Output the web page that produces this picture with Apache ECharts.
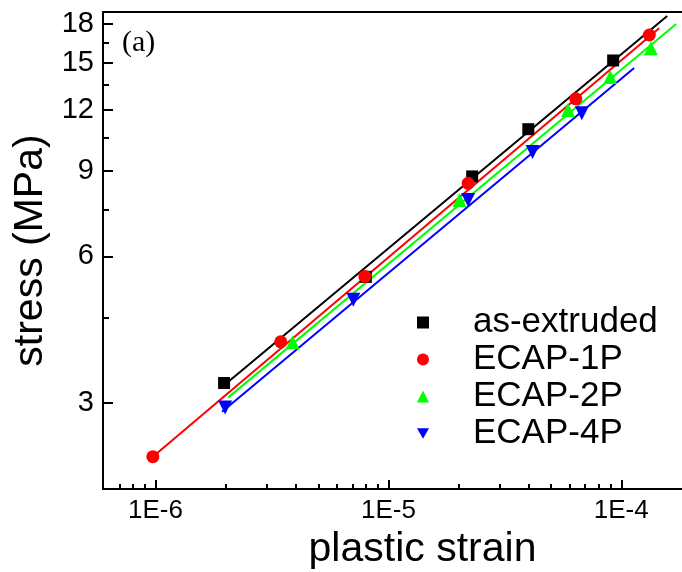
<!DOCTYPE html>
<html>
<head>
<meta charset="utf-8">
<script src="https://cdn.jsdelivr.net/npm/echarts@6/dist/echarts.min.js"></script>
<style>
  html, body { margin: 0; padding: 0; background: #fff; }
  #viz { width: 682px; height: 572px; }
</style>
</head>
<body>
<div id="viz"></div>
<script>
// values (strain, stress in MPa)
var seriesNames = ['as-extruded', 'ECAP-1P', 'ECAP-2P', 'ECAP-4P'];
var seriesColors = ['#000000', '#ff0000', '#00ff00', '#0000ff'];

var extrudedStrain = [1.97e-6, 8.0e-6, 2.29e-5, 3.99e-5, 9.23e-5];
var extrudedStress = [3.3, 5.45, 8.76, 10.95, 15.15];
var ecap1Strain = [9.74e-7, 3.45e-6, 7.93e-6, 2.2e-5, 6.38e-5, 1.32e-4];
var ecap1Stress = [2.33, 4.01, 5.46, 8.48, 12.64, 17.09];
var ecap2Strain = [3.88e-6, 2.02e-5, 5.91e-5, 8.97e-5, 1.34e-4];
var ecap2Stress = [4.0, 7.84, 11.99, 14.01, 16.05];
var ecap4Strain = [1.99e-6, 7.07e-6, 2.2e-5, 4.16e-5, 6.77e-5];
var ecap4Stress = [2.94, 4.89, 7.84, 9.83, 11.8];

// fitted power-law lines, start and end of each
var fitStrain = [[1.93e-6, 1.575e-4], [9.74e-7, 1.455e-4], [2.05e-6, 1.72e-4], [1.93e-6, 1.136e-4]];
var fitStress = [[3.24, 18.69], [2.33, 17.64], [3.08, 18.0], [2.88, 14.62]];

var xMajor = [1e-6, 1e-5, 1e-4];
var xMinor = [7e-7, 8e-7, 9e-7,
  2e-6, 3e-6, 4e-6, 5e-6, 6e-6, 7e-6, 8e-6, 9e-6,
  2e-5, 3e-5, 4e-5, 5e-5, 6e-5, 7e-5, 8e-5, 9e-5, 2e-4, 3e-4];
var yMajor = [3, 6, 9, 12, 15, 18];
var yMinor = [4.5, 7.5, 10.5, 13.5, 16.5];

var strainSets = [extrudedStrain, ecap1Strain, ecap2Strain, ecap4Strain];
var stressSets = [extrudedStress, ecap1Stress, ecap2Stress, ecap4Stress];
var downTri = 'path://M0,0L20,0L10,17.3Z';
var symbols = ['rect', 'circle', 'triangle', downTri];
var symbolSizes = [12, 13, 14, 14];

function pairs(xs, ys) {
  var out = [];
  for (var i = 0; i < xs.length; i++) out.push([xs[i], ys[i]]);
  return out;
}

var fontName = '"Liberation Sans", Arial, sans-serif';

function logAxis(pos, min, max, extra) {
  var a = {
    type: 'log', logBase: 10, position: pos, min: min, max: max,
    axisLine: { show: false },
    axisTick: { show: false },
    axisLabel: { show: false },
    splitLine: { show: false },
    minorTick: { show: false },
    minorSplitLine: { show: false }
  };
  for (var k in extra) a[k] = extra[k];
  return a;
}

var xMin = 5.95e-7, xMax = 3.3e-4, yMin = 2, yMax = 19.05;

var series = [];
for (var i = 0; i < 4; i++) {
  series.push({
    name: 'fit' + i,
    type: 'line',
    xAxisIndex: 0, yAxisIndex: 0,
    data: pairs(fitStrain[i], fitStress[i]),
    showSymbol: false,
    silent: true,
    z: 2,
    lineStyle: { color: seriesColors[i], width: 2 }
  });
}
for (var i = 0; i < 4; i++) {
  series.push({
    name: seriesNames[i],
    type: 'scatter',
    xAxisIndex: 0, yAxisIndex: 0,
    data: pairs(strainSets[i], stressSets[i]),
    symbol: symbols[i],
    symbolSize: symbolSizes[i],
    z: 3,
    itemStyle: { color: seriesColors[i], opacity: 1 }
  });
}

var chart = echarts.init(document.getElementById('viz'));
chart.setOption({
  animation: false,
  backgroundColor: '#ffffff',
  title: {
    text: '(a)', left: 122, top: 28, padding: 0,
    textStyle: { fontFamily: '"Liberation Serif", "Times New Roman", serif', fontSize: 30, fontWeight: 'normal', color: '#000' }
  },
  grid: { left: 103, top: 12, right: -60, bottom: 83, containLabel: false, outerBoundsMode: 'none' },
  legend: {
    data: seriesNames,
    orient: 'vertical',
    left: 417, top: 305, padding: 0,
    itemWidth: 12, itemHeight: 12,
    itemGap: 2,
    itemStyle: { opacity: 1 },
    textStyle: { fontFamily: fontName, fontSize: 35, color: '#000', lineHeight: 30, padding: [0, 0, 0, 39] }
  },
  xAxis: [
    logAxis('bottom', xMin, xMax, {
      name: 'plastic strain', nameLocation: 'middle', nameGap: 36,
      nameTextStyle: { fontFamily: fontName, fontSize: 41, color: '#000' },
      axisLine: { show: true, onZero: false, lineStyle: { color: '#000', width: 2 } },
      axisTick: { show: true, inside: true, length: 9, customValues: xMajor, lineStyle: { color: '#000', width: 2 } },
      axisLabel: {
        show: true, customValues: xMajor, margin: 9,
        fontFamily: fontName, fontSize: 26, color: '#000',
        formatter: function (v) { return '1E' + Math.round(Math.log10(v)); }
      }
    }),
    logAxis('bottom', xMin, xMax, {
      axisTick: { show: true, inside: true, length: 5, customValues: xMinor, lineStyle: { color: '#000', width: 2 } }
    }),
    logAxis('top', xMin, xMax, {
      axisLine: { show: true, onZero: false, lineStyle: { color: '#000', width: 2 } }
    })
  ],
  yAxis: [
    logAxis('left', yMin, yMax, {
      name: 'stress (MPa)', nameLocation: 'middle', nameGap: 46, nameRotate: 90,
      nameTextStyle: { fontFamily: fontName, fontSize: 41, color: '#000' },
      axisLine: { show: true, onZero: false, lineStyle: { color: '#000', width: 2 } },
      axisTick: { show: true, inside: true, length: 10, customValues: yMajor, lineStyle: { color: '#000', width: 2 } },
      axisLabel: {
        show: true, customValues: yMajor, margin: 9,
        fontFamily: fontName, fontSize: 29, color: '#000'
      }
    }),
    logAxis('left', yMin, yMax, {
      axisTick: { show: true, inside: true, length: 6, customValues: yMinor, lineStyle: { color: '#000', width: 2 } }
    })
  ],
  series: series
});
</script>
</body>
</html>
